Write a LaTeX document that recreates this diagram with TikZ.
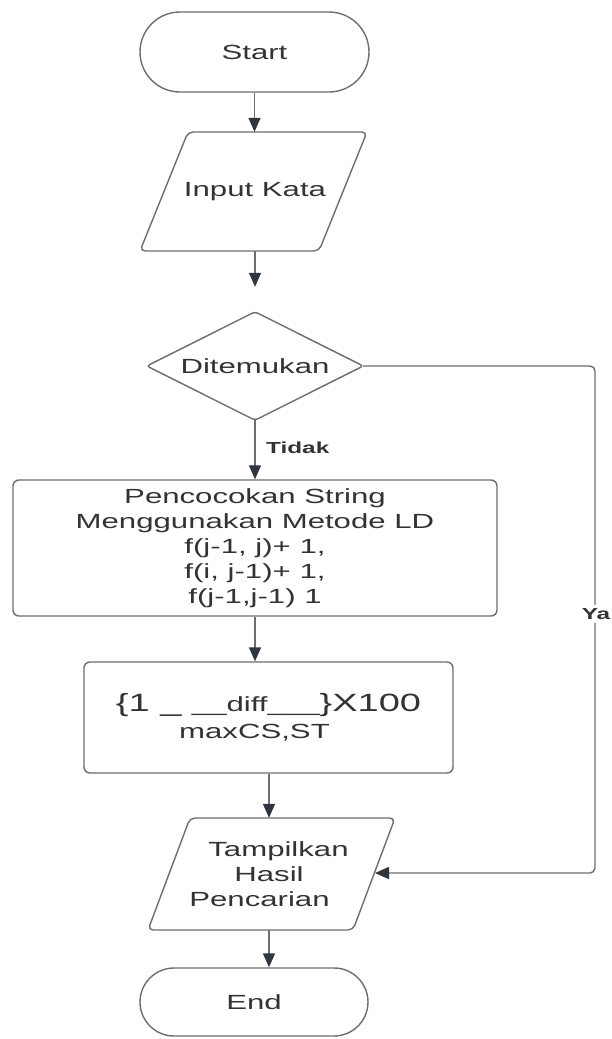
\documentclass[tikz,border=0pt]{standalone}
\usepackage{fontspec}
\setmainfont{Liberation Sans}[FakeStretch=1.52]
\usetikzlibrary{arrows.meta}
\definecolor{txt}{HTML}{333333}
\definecolor{edge}{HTML}{6E6E6E}
\definecolor{tip}{HTML}{2F3640}
\begin{document}
\begin{tikzpicture}[x=1pt,y=-1pt,
  every node/.style={text=txt, font=\fontsize{20.5}{25}\selectfont},
  shp/.style={draw=edge, line width=1.4pt, fill=white, inner sep=0pt},
  term/.style={shp, rounded corners=34pt},
  proc/.style={shp, rounded corners=6pt, align=center},
  ghost/.style={inner sep=0pt, align=center},
  conn/.style={draw=edge, line width=1.4pt, -{Triangle[length=14pt,width=12pt,fill=tip,color=tip]}},
  lbl/.style={font=\bfseries\fontsize{16}{16}\selectfont, inner sep=1pt}
]
\useasboundingbox[fill=white] (0,0) rectangle (611,1039);

% Start
\node[term, rounded corners=40pt, minimum width=229pt, minimum height=80pt] (start) at (254.5,52) {Start};

% Input Kata (parallelogram)
\draw[shp, rounded corners=5pt] (188,132) -- (367,132) -- (319,251) -- (140,251) -- cycle;
\node[ghost, minimum height=119pt] (inp) at (255,191.5) {Input Kata};

% Decision (diamond)
\node[ghost, minimum width=216pt, minimum height=108pt] (dec) at (255,366) {};
\draw[shp, rounded corners=3pt] (dec.north) -- (dec.east) -- (dec.south) -- (dec.west) -- cycle;
\node[ghost] (dect) at (dec.center) {Ditemukan};

% Process LD
\node[proc, minimum width=484pt, minimum height=136pt] (ld) at (255,548)
  {Pencocokan String\\Menggunakan Metode LD\\f(j-1, j)+ 1,\\f(i, j-1)+ 1,\\f(j-1,j-1) 1};

% Formula box
\node[proc, minimum width=369pt, minimum height=111pt] (calc) at (268.5,717.5)
  {{\fontsize{25}{25}\selectfont\{1 \_ }{\fontsize{20.5}{25}\selectfont\_\_diff\_\_\_}{\fontsize{25}{25}\selectfont\}X100}\\[2pt]\hspace*{-28pt}maxCS,ST};

% Tampilkan (parallelogram)
\draw[shp, rounded corners=5pt] (190,818) -- (395,818) -- (353,930) -- (148,930) -- cycle;
\node[ghost, minimum height=112pt] (tam) at (269,874)
  {\hspace*{19pt}Tampilkan\\Hasil\\Pencarian\hspace*{19pt}};
\coordinate (tamR) at (375,873);

% End
\node[term, minimum width=228pt, minimum height=68pt] (end) at (254,1002) {End};

% Connectors
\draw[conn] (start.south) -- (start.south |- inp.north);
\draw[conn, shorten >=25pt] (inp.south) -- (dec.north);
\draw[conn] (dec.south) -- (ld.north);
\draw[conn] (ld.south) -- (ld.south |- calc.north);
\draw[conn] (tam.north |- calc.south) -- (tam.north);
\draw[conn] (tam.south) -- (tam.south |- end.north);
\draw[conn, rounded corners=5pt] (dec.east) -- (595,366) -- (595,873) -- (tamR);

% Labels
\node[lbl, anchor=west] (tidak) at (265,448) {Tidak};
\node[lbl, fill=white, inner ysep=3pt] (ya) at (596,614) {Ya};
\end{tikzpicture}
\end{document}
